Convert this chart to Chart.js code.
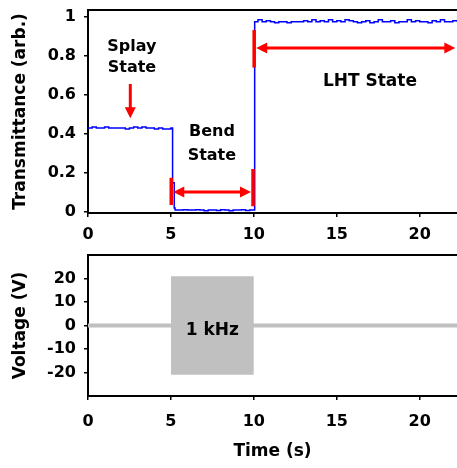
<!DOCTYPE html>
<html>
<head>
<meta charset="utf-8">
<script src="https://cdn.jsdelivr.net/npm/chart.js@4/dist/chart.umd.min.js"></script>
<style>
  body { margin: 0; background: #fff; }
  #wrap { position: relative; width: 457px; height: 468px; overflow: hidden; }
  #topChart { position: absolute; left: 0; top: 0; }
  #bottomChart { position: absolute; left: 0; top: 240px; }
</style>
</head>
<body>
<div id="wrap">
  <canvas id="topChart" width="457" height="245"></canvas>
  <canvas id="bottomChart" width="457" height="228"></canvas>
</div>
<script>
// 透过率曲线
const timeS = [
  0, 0.25, 0.5, 0.75, 1, 1.25, 1.5, 1.75, 2, 2.25, 2.5, 2.75, 3, 3.25, 3.5, 3.75, 4, 4.25, 4.5, 4.75, 5,
  5.1, 5.2,
  5.25, 5.5, 5.75, 6, 6.25, 6.5, 6.75, 7, 7.25, 7.5, 7.75, 8, 8.25, 8.5, 8.75, 9, 9.25, 9.5, 9.75, 9.95,
  10.05, 10.25, 10.5, 10.75, 11, 11.25, 11.5, 11.75, 12, 12.25, 12.5, 12.75, 13, 13.25, 13.5, 13.75,
  14, 14.25, 14.5, 14.75, 15, 15.25, 15.5, 15.75, 16, 16.25, 16.5, 16.75, 17, 17.25, 17.5, 17.75,
  18, 18.25, 18.5, 18.75, 19, 19.25, 19.5, 19.75, 20, 20.25, 20.5, 20.75, 21, 21.25, 21.5, 21.75, 22, 22.25
];
const transmittance = [
  0.43, 0.435, 0.43, 0.43, 0.435, 0.43, 0.43, 0.43, 0.43, 0.425, 0.43, 0.435, 0.43, 0.435, 0.43, 0.43, 0.425, 0.43, 0.425, 0.425, 0.43,
  0.15, 0.02,
  0.01, 0.01, 0.012, 0.01, 0.01, 0.012, 0.01, 0.007, 0.01, 0.01, 0.008, 0.012, 0.01, 0.007, 0.01, 0.01, 0.012, 0.008, 0.01, 0.01,
  0.975, 0.985, 0.975, 0.98, 0.975, 0.97, 0.975, 0.975, 0.97, 0.975, 0.975, 0.975, 0.98, 0.975, 0.985, 0.975,
  0.98, 0.975, 0.985, 0.975, 0.98, 0.975, 0.985, 0.98, 0.975, 0.97, 0.975, 0.98, 0.97, 0.975, 0.985, 0.975,
  0.975, 0.98, 0.97, 0.975, 0.975, 0.985, 0.975, 0.98, 0.975, 0.975, 0.97, 0.98, 0.975, 0.985, 0.975, 0.975, 0.98, 0.975
];

// 电压：0 V 基线与 5–10 s 的 1 kHz 方波包络
const voltTime = [0, 22.25];
const voltage = [0, 0];
const burstTime = [5, 10];
const burstHigh = [21, 21];
const burstLow = -21;

// 刻度
const xTicks = [0, 5, 10, 15, 20];
const transTicks = [0, 0.2, 0.4, 0.6, 0.8, 1];
const voltTicks = [-20, -10, 0, 10, 20];

const FONT = '"DejaVu Sans", Verdana, sans-serif';
const RED = '#ff0000';

function pts(xs, ys) {
  return xs.map((x, i) => ({ x: x, y: Array.isArray(ys) ? ys[i] : ys }));
}

function fixScale(size, horizontal) {
  return function (scale) {
    if (horizontal) scale.height = size; else scale.width = size;
    scale.paddingTop = 0; scale.paddingBottom = 0;
    scale.paddingLeft = 0; scale.paddingRight = 0;
  };
}

// 上边框（右边在画面外）
const topFrame = {
  id: 'topFrame',
  afterDraw(chart) {
    const { ctx, chartArea: a } = chart;
    ctx.save();
    ctx.strokeStyle = '#000';
    ctx.lineWidth = 2;
    ctx.beginPath();
    ctx.moveTo(a.left - 1, a.top);
    ctx.lineTo(a.right, a.top);
    ctx.stroke();
    ctx.restore();
  }
};

function head(ctx, x, y, dir) {
  const L = 11, W = 5.5;
  ctx.beginPath();
  if (dir === 'left') { ctx.moveTo(x, y); ctx.lineTo(x + L, y - W); ctx.lineTo(x + L, y + W); }
  if (dir === 'right') { ctx.moveTo(x, y); ctx.lineTo(x - L, y - W); ctx.lineTo(x - L, y + W); }
  if (dir === 'down') { ctx.moveTo(x, y); ctx.lineTo(x - W, y - L); ctx.lineTo(x + W, y - L); }
  ctx.closePath();
  ctx.fill();
}

function text(ctx, s, x, y, size) {
  ctx.font = 'bold ' + size + 'px ' + FONT;
  ctx.fillStyle = '#000';
  ctx.textAlign = 'center';
  ctx.textBaseline = 'middle';
  ctx.fillText(s, x, y);
}

// 上图标注
const stateNotes = {
  id: 'stateNotes',
  afterDatasetsDraw(chart) {
    const { ctx, scales: { x, y } } = chart;
    const px = v => x.getPixelForValue(v);
    const py = v => y.getPixelForValue(v);
    ctx.save();
    ctx.strokeStyle = RED;
    ctx.fillStyle = RED;
    ctx.lineWidth = 3;

    // Splay 箭头
    ctx.beginPath();
    ctx.moveTo(px(2.55), py(0.656));
    ctx.lineTo(px(2.55), py(0.5));
    ctx.stroke();
    head(ctx, px(2.55), py(0.48), 'down');

    // Bend 区间
    ctx.lineWidth = 3.5;
    ctx.beginPath();
    ctx.moveTo(px(5.02), py(0.036)); ctx.lineTo(px(5.02), py(0.175));
    ctx.moveTo(px(9.95), py(0.03)); ctx.lineTo(px(9.95), py(0.22));
    ctx.stroke();
    ctx.lineWidth = 3;
    ctx.beginPath();
    ctx.moveTo(px(5.02) + 8, py(0.103)); ctx.lineTo(px(9.95) - 8, py(0.103));
    ctx.stroke();
    head(ctx, px(5.02) + 2, py(0.103), 'left');
    head(ctx, px(9.95) - 2, py(0.103), 'right');

    // LHT 区间
    ctx.lineWidth = 3.5;
    ctx.beginPath();
    ctx.moveTo(px(10.02), py(0.74)); ctx.lineTo(px(10.02), py(0.933));
    ctx.stroke();
    ctx.lineWidth = 3;
    ctx.beginPath();
    ctx.moveTo(px(10.02) + 8, py(0.84)); ctx.lineTo(px(22.15) - 8, py(0.84));
    ctx.stroke();
    head(ctx, px(10.02) + 2, py(0.84), 'left');
    head(ctx, px(22.15), py(0.84), 'right');

    text(ctx, 'Splay', px(2.65), py(0.845), 16);
    text(ctx, 'State', px(2.65), py(0.738), 16);
    text(ctx, 'Bend', px(7.47), py(0.41), 16);
    text(ctx, 'State', px(7.47), py(0.287), 16);
    text(ctx, 'LHT State', px(17.0), py(0.667), 17);
    ctx.restore();
  }
};

const burstNote = {
  id: 'burstNote',
  afterDatasetsDraw(chart) {
    const { ctx, scales: { x, y } } = chart;
    ctx.save();
    text(ctx, '1 kHz', x.getPixelForValue(7.5), y.getPixelForValue(-2.3), 17);
    ctx.restore();
  }
};

function axisX(tickPad, height, title) {
  return {
    type: 'linear',
    min: 0,
    max: 22.25,
    afterBuildTicks: s => { s.ticks = xTicks.map(v => ({ value: v })); },
    afterFit: fixScale(height, true),
    grid: { drawOnChartArea: false, drawTicks: true, tickLength: 4, tickColor: '#000', lineWidth: 1.5 },
    border: { display: true, color: '#000', width: 2 },
    ticks: { color: '#000', padding: tickPad, maxRotation: 0, font: { family: FONT, size: 16, weight: 'bold' }, callback: v => String(v) },
    title: title ? { display: true, text: title, color: '#000', padding: { top: 0, bottom: 6 }, font: { family: FONT, size: 17, weight: 'bold' } } : { display: false }
  };
}

function axisY(min, max, ticks, title) {
  return {
    type: 'linear',
    min: min,
    max: max,
    afterBuildTicks: s => { s.ticks = ticks.map(v => ({ value: v })); },
    afterFit: fixScale(88, false),
    grid: { drawOnChartArea: false, drawTicks: true, tickLength: 4, tickColor: '#000', lineWidth: 1.5 },
    border: { display: true, color: '#000', width: 2 },
    ticks: { color: '#000', padding: 8, font: { family: FONT, size: 16, weight: 'bold' }, callback: v => String(v) },
    title: { display: true, text: title, color: '#000', padding: { top: 10, bottom: 0 }, font: { family: FONT, size: 17, weight: 'bold' } }
  };
}

new Chart(document.getElementById('topChart'), {
  type: 'line',
  data: {
    datasets: [{
      data: pts(timeS, transmittance),
      borderColor: '#0000ff',
      borderWidth: 1.5,
      pointRadius: 0,
      stepped: true,
      fill: false
    }]
  },
  options: {
    responsive: false,
    animation: false,
    layout: { padding: { top: 10, left: 0, right: 0, bottom: 0 } },
    plugins: { legend: { display: false }, tooltip: { enabled: false } },
    scales: {
      x: axisX(8, 32, null),
      y: axisY(-0.005, 1.035, transTicks, 'Transmittance (arb.)')
    }
  },
  plugins: [topFrame, stateNotes]
});

new Chart(document.getElementById('bottomChart'), {
  type: 'line',
  data: {
    datasets: [
      {
        data: pts(burstTime, burstHigh),
        borderColor: '#c0c0c0',
        borderWidth: 0,
        backgroundColor: '#c0c0c0',
        pointRadius: 0,
        fill: { value: burstLow },
        order: 1
      },
      {
        data: pts(voltTime, voltage),
        borderColor: '#c0c0c0',
        borderWidth: 4,
        pointRadius: 0,
        fill: false,
        order: 2
      }
    ]
  },
  options: {
    responsive: false,
    animation: false,
    layout: { padding: { top: 15, left: 0, right: 0, bottom: 0 } },
    plugins: { legend: { display: false }, tooltip: { enabled: false } },
    scales: {
      x: axisX(12, 72, 'Time (s)'),
      y: axisY(-30, 30, voltTicks, 'Voltage (V)')
    }
  },
  plugins: [topFrame, burstNote]
});
</script>
</body>
</html>
